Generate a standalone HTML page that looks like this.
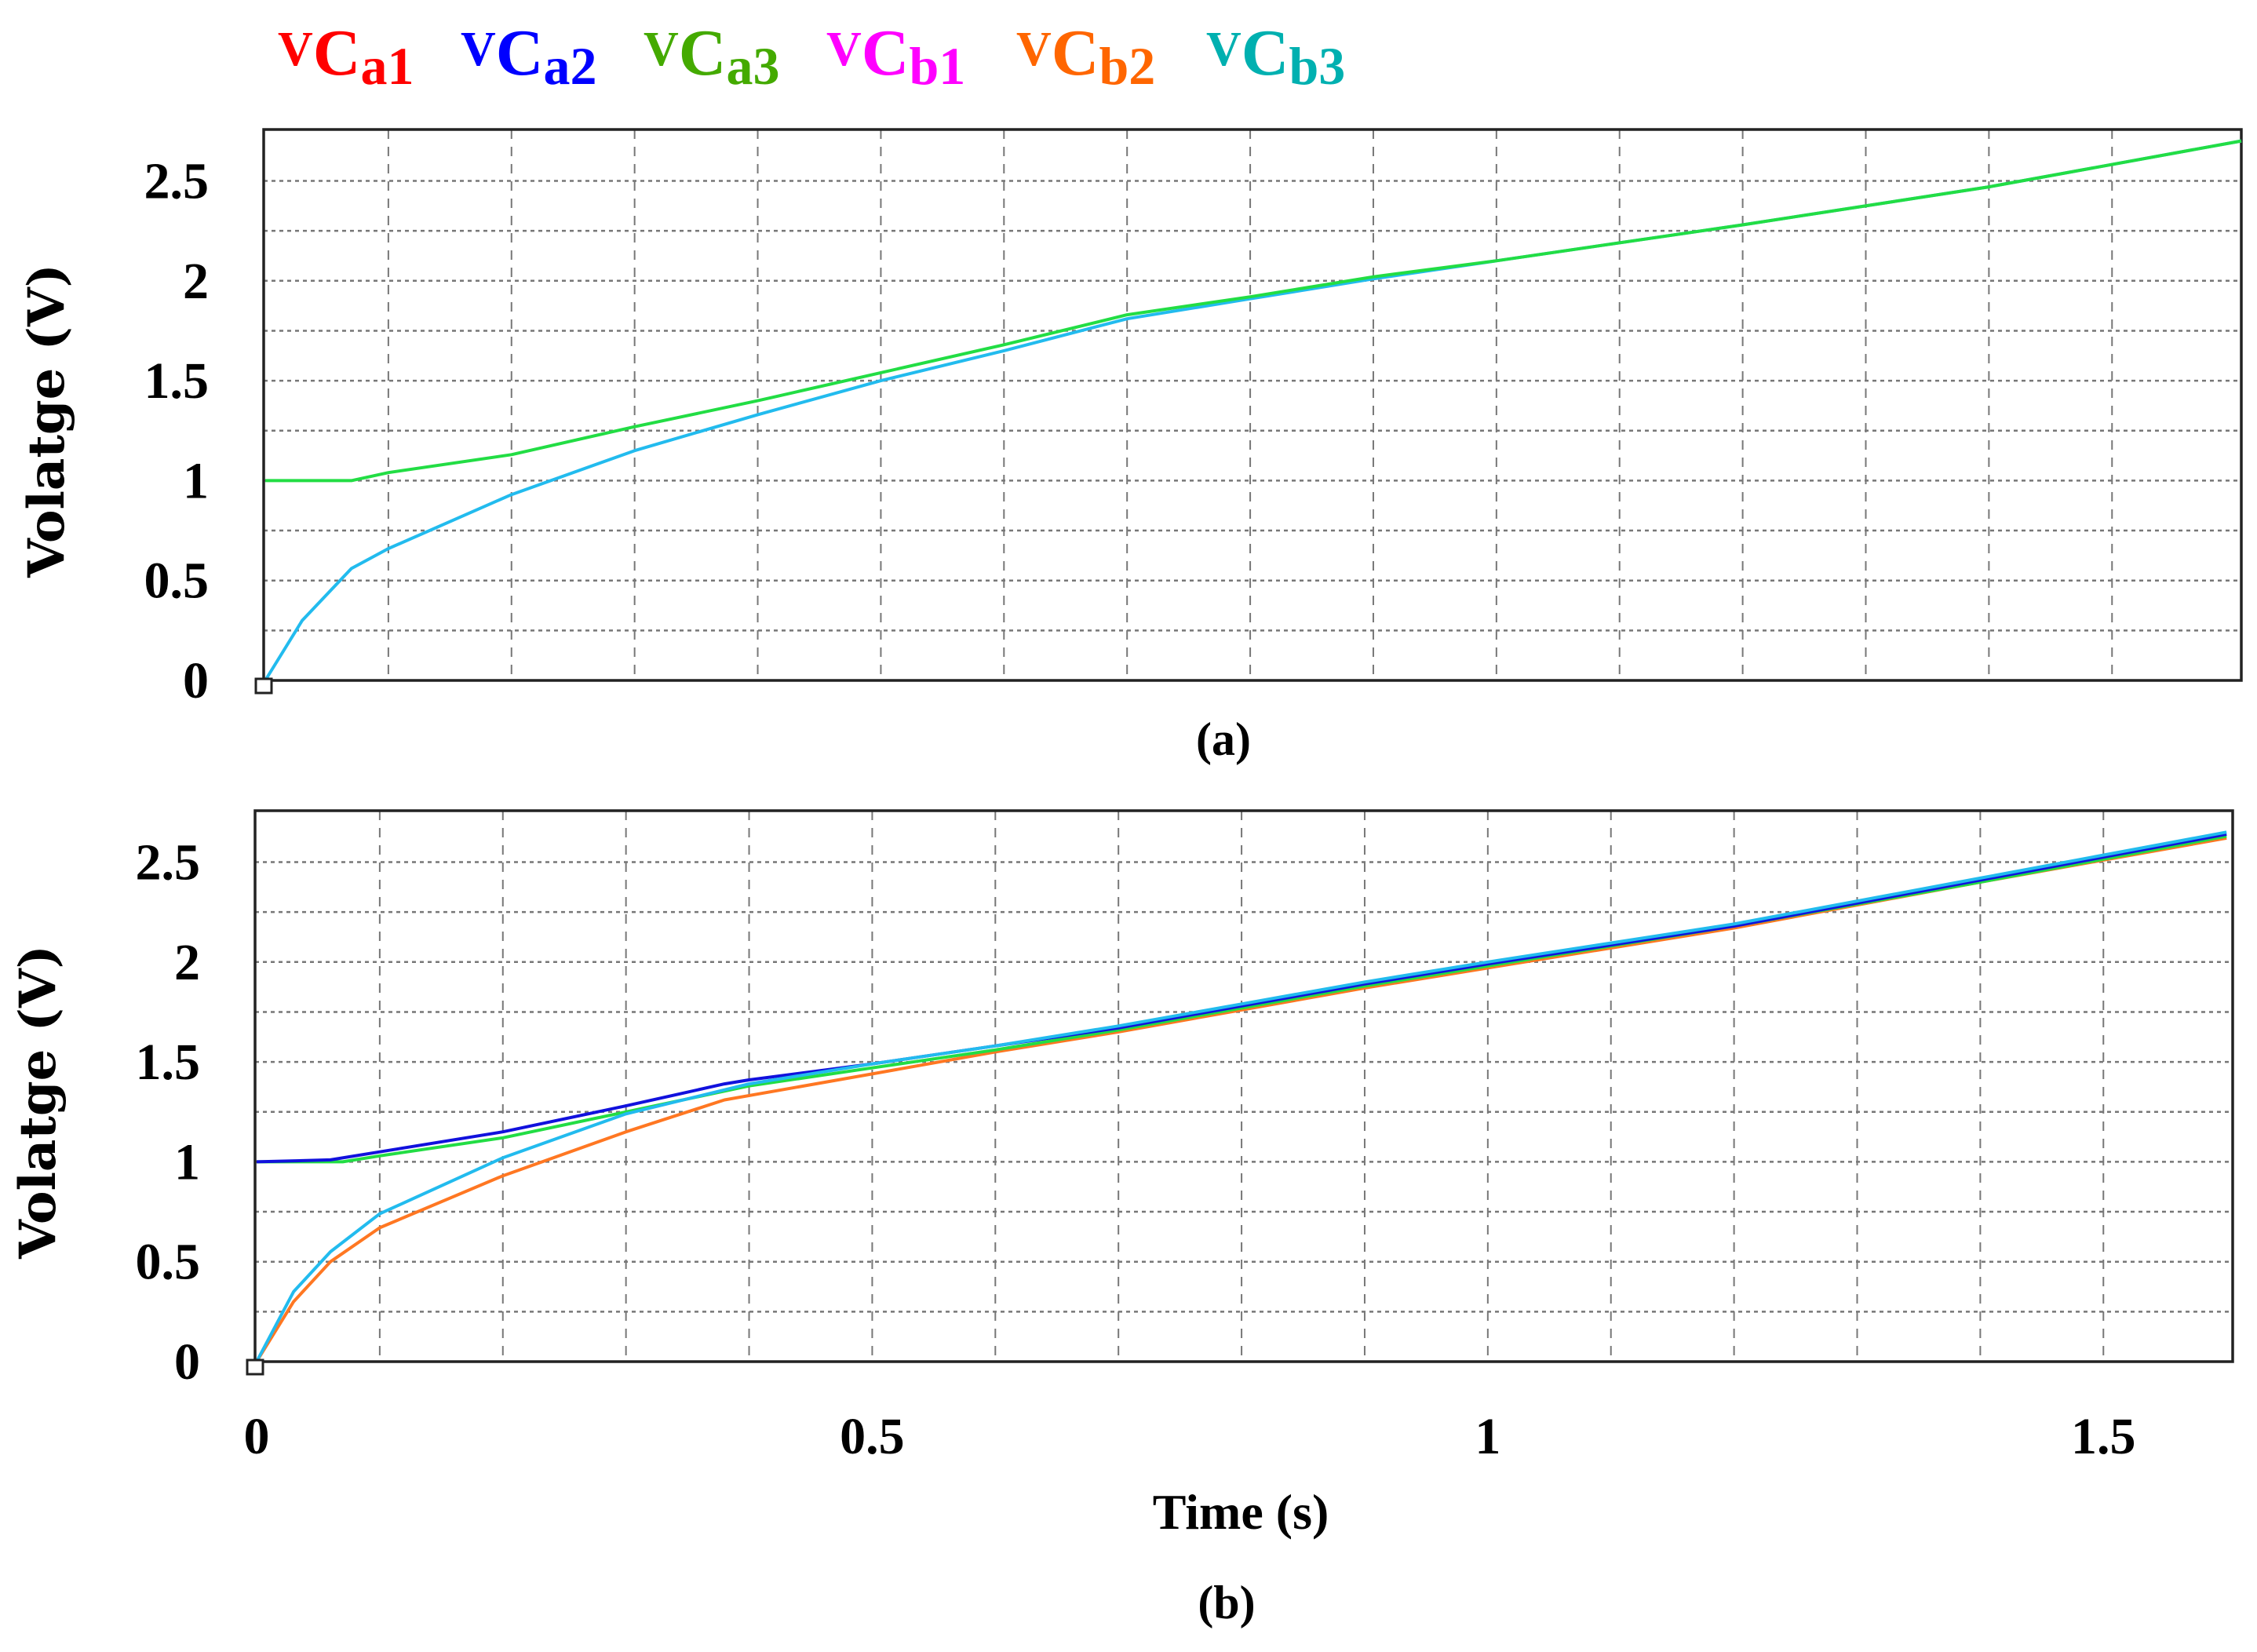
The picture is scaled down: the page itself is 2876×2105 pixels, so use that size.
<!DOCTYPE html>
<html><head><meta charset="utf-8"><style>
body{margin:0;background:#fff;}
svg{display:block;font-family:"Liberation Serif",serif;}
</style></head><body>
<svg id="chart" width="2876" height="2105" viewBox="0 0 2876 2105" xmlns="http://www.w3.org/2000/svg">
<g id="legend" font-weight="bold"></g>
</svg>
<script>
const NS="http://www.w3.org/2000/svg";
const svg=document.getElementById('chart');
const yTicks=[0,0.5,1,1.5,2,2.5];
const yTickLabels=["0","0.5","1","1.5","2","2.5"];
const xTicks=[0,0.5,1,1.5];
const xTickLabels=["0","0.5","1","1.5"];
const legendNames=["a1","a2","a3","b1","b2","b3"];
const legendColors=["#ff0000","#0000ff","#44aa00","#ff00ff","#ff6600","#00b0b0"];
// panel (a)
const aGreenT=[0,0.07,0.1,0.2,0.3,0.4,0.5,0.6,0.7,0.8,0.9,1.0,1.2,1.4,1.605];
const aGreenV=[1.0,1.0,1.04,1.13,1.27,1.4,1.54,1.68,1.83,1.92,2.02,2.1,2.28,2.47,2.7];
const aCyanT=[0,0.03,0.07,0.1,0.2,0.3,0.4,0.5,0.6,0.7,0.8,0.9,1.0,1.2,1.4,1.605];
const aCyanV=[0,0.3,0.56,0.66,0.93,1.15,1.33,1.5,1.65,1.81,1.91,2.01,2.1,2.28,2.47,2.7];
// panel (b)
const bBlueT=[0,0.06,0.1,0.2,0.3,0.38,0.4,0.5,0.6,0.7,0.8,0.9,1.0,1.2,1.4,1.6];
const bBlueV=[1.0,1.01,1.05,1.15,1.28,1.39,1.41,1.49,1.58,1.67,1.78,1.89,1.99,2.18,2.41,2.64];
const bGreenT=[0,0.07,0.1,0.2,0.3,0.4,0.5,0.6,0.7,0.8,0.9,1.0,1.2,1.4,1.6];
const bGreenV=[1.0,1.0,1.03,1.12,1.25,1.38,1.47,1.56,1.66,1.77,1.88,1.98,2.18,2.4,2.63];
const bOrangeT=[0,0.03,0.06,0.1,0.2,0.3,0.38,0.5,0.6,0.7,0.8,0.9,1.0,1.2,1.4,1.6];
const bOrangeV=[0,0.3,0.5,0.67,0.93,1.15,1.31,1.44,1.55,1.65,1.76,1.87,1.97,2.17,2.4,2.62];
const bCyanT=[0,0.03,0.06,0.1,0.2,0.3,0.4,0.5,0.6,0.7,0.8,0.9,1.0,1.2,1.4,1.6];
const bCyanV=[0,0.35,0.55,0.74,1.02,1.24,1.39,1.49,1.58,1.68,1.79,1.9,2.0,2.19,2.42,2.65];

function mk(tag,attrs,parent){const e=document.createElementNS(NS,tag);for(const k in attrs)e.setAttribute(k,attrs[k]);(parent||svg).appendChild(e);return e;}

// legend
const lg=document.getElementById('legend');
const legX=[354,587,820,1053,1295,1537];
legendNames.forEach((n,i)=>{
  const t=mk('text',{x:legX[i],y:95,fill:legendColors[i],'font-size':70},lg);
  
  
  const s1=mk('tspan',{dy:-12,'font-size':62},t);s1.textContent='V';
  const s2=mk('tspan',{dy:12,'font-size':84},t);s2.textContent='C';
  const s3=mk('tspan',{dy:12,'font-size':68},t);s3.textContent=n;
});

function panel(name,L,R,T,B,series,showX){
  const g=mk('g',{});
  
  
  const x0=L+2, pxPerS=(R-L-2)/1.605;
  const sx=t=>x0+t*pxPerS;
  const y0=B, pxPerV=127.3*2;
  const sy=v=>y0-v*pxPerV;
  for(let k=1;k<=15;k++){const x=sx(k*0.1);const l=mk('line',{x1:x,x2:x,y1:T,y2:B,stroke:'#777','stroke-width':2,'stroke-dasharray':'12,10'},g);}
  for(let k=1;k<=10;k++){const y=sy(k*0.25);const l=mk('line',{x1:L,x2:R,y1:y,y2:y,stroke:'#777','stroke-width':2.5,'stroke-dasharray':'5,5'},g);}
  const f=mk('rect',{x:L,y:T,width:R-L,height:B-T,fill:'none',stroke:'#222','stroke-width':3.5},g);
  
  series.forEach(s=>{
    const d=s.t.map((t,i)=>(i?'L':'M')+sx(t).toFixed(1)+','+sy(s.v[i]).toFixed(1)).join(' ');
    const p=mk('path',{d:d,fill:'none',stroke:s.c,'stroke-width':4,'stroke-linejoin':'round'},g);
    
    
  });
  const m=mk('rect',{x:L-10,y:B-2,width:20,height:18,fill:'#fff',stroke:'#222','stroke-width':3},g);
  
  yTicks.forEach((v,i)=>{const t=mk('text',{x:L-70,y:sy(v)+22,'text-anchor':'end','font-size':66,'font-weight':'bold'},g);t.textContent=yTickLabels[i];});
  const yt=mk('text',{transform:`translate(${L-255},${(T+B)/2+20}) rotate(-90)`,'text-anchor':'middle','font-size':64,'font-weight':'bold','font-family':'"DejaVu Serif",serif'},g);
  yt.textContent='Volatge (V)';
  if(showX){
    xTicks.forEach((v,i)=>{const t=mk('text',{x:sx(v),y:1852,'text-anchor':'middle','font-size':66,'font-weight':'bold'},g);t.textContent=xTickLabels[i];});
    const xt=mk('text',{x:1581,y:1948,'text-anchor':'middle','font-size':64,'font-weight':'bold'},g);
    xt.textContent='Time (s)';
  }
}
panel('a',336,2856,165,867,[
  {n:'cyan',t:aCyanT,v:aCyanV,c:'#22bbee'},
  {n:'green',t:aGreenT,v:aGreenV,c:'#22dd44'}],false);
panel('b',325,2845,1033,1735,[
  {n:'orange',t:bOrangeT,v:bOrangeV,c:'#ff7722'},
  {n:'green',t:bGreenT,v:bGreenV,c:'#22dd44'},
  {n:'blue',t:bBlueT,v:bBlueV,c:'#1111dd'},
  {n:'cyan',t:bCyanT,v:bCyanV,c:'#22bbee'}],true);
const ca=mk('text',{x:1559,y:962,'text-anchor':'middle','font-size':60,'font-weight':'bold'});ca.textContent='(a)';


const cb=mk('text',{x:1563,y:2062,'text-anchor':'middle','font-size':60,'font-weight':'bold'});cb.textContent='(b)';


</script>
</body></html>
